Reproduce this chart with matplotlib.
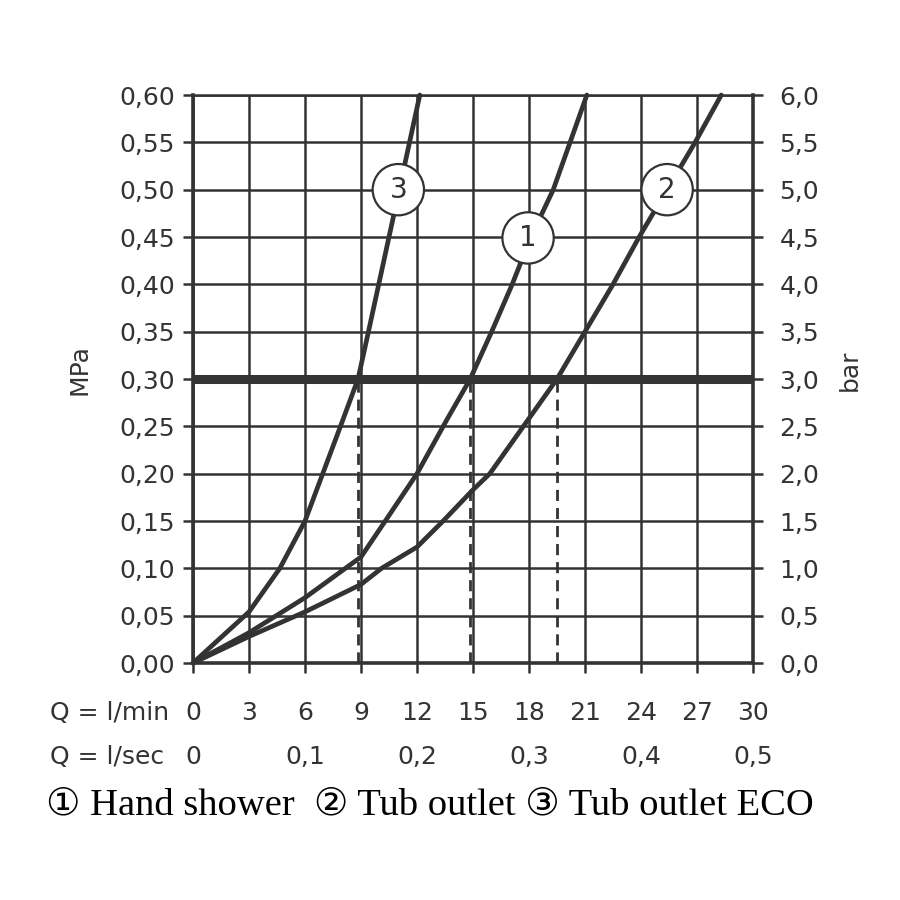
import matplotlib
matplotlib.use("Agg")
import matplotlib.pyplot as plt
import numpy as np

# Durchfluss (l/min) und Druck (MPa) je Kurve
flow_hand = [0, 3, 6, 9, 10.3, 12, 13.6, 14.85, 16.0, 17.1, 18.1, 19.3, 20.2, 21.1]
mpa_hand = [0, 0.032, 0.069, 0.112, 0.15, 0.20, 0.257, 0.30, 0.35, 0.40, 0.45, 0.50, 0.55, 0.60]

flow_tub = [0, 3, 6, 9, 10.1, 12, 13.4, 15, 15.9, 17.7, 19.5, 21.0, 22.5, 23.9, 25.4, 26.9, 28.3]
mpa_tub = [0, 0.028, 0.054, 0.083, 0.10, 0.1225, 0.15, 0.183, 0.20, 0.25, 0.30, 0.35, 0.40, 0.45, 0.50, 0.55, 0.60]

flow_eco = [0, 3, 4.65, 6.0, 6.95, 7.9, 8.84, 9.4, 9.95, 10.5, 11.05, 11.6, 12.15]
mpa_eco = [0, 0.054, 0.10, 0.15, 0.20, 0.25, 0.30, 0.35, 0.40, 0.45, 0.50, 0.55, 0.60]

# Kreis-Nummern auf den Kurven
marker_text = ["1", "2", "3"]
marker_x = [17.95, 25.4, 11.0]
marker_y = [0.449, 0.50, 0.50]

ref_pressure = 0.30
lmin_ticks = [0, 3, 6, 9, 12, 15, 18, 21, 24, 27, 30]
lsec_pos = [0, 6, 12, 18, 24, 30]
lsec_labels = ["0", "0,1", "0,2", "0,3", "0,4", "0,5"]
mpa_ticks = np.arange(0, 0.601, 0.05)
bar_ticks = np.arange(0, 6.01, 0.5)
legend_text = "\u2460 Hand shower  \u2461 Tub outlet \u2462 Tub outlet ECO"

dark = "#333333"
plt.rcParams["font.family"] = ["DejaVu Sans"]

fig = plt.figure(figsize=(9, 9), dpi=100)
ax = fig.add_axes([193 / 900, 237 / 900, 560 / 900, 568 / 900])

ax.set_xlim(0, 30)
ax.set_ylim(0, 0.6)
ax.set_xticks(lmin_ticks)
ax.set_yticks(mpa_ticks)
ax.set_yticklabels([f"{v:.2f}".replace(".", ",") for v in mpa_ticks])
ax.grid(True, color=dark, lw=1.8)
ax.set_axisbelow(True)
ax.tick_params(axis="both", direction="out", length=7, width=1.8, color=dark,
               labelsize=18, labelcolor=dark)
ax.tick_params(axis="y", pad=6)
ax.tick_params(axis="x", labelbottom=False)
for side in ["left", "right", "bottom"]:
    ax.spines[side].set_linewidth(2.6)
    ax.spines[side].set_color(dark)
ax.spines["top"].set_linewidth(1.8)
ax.spines["top"].set_color(dark)

# dicke Linie bei 0,30 MPa
ax.axhline(ref_pressure, color=dark, lw=6.5, zorder=3)

# gestrichelte Linien bis zur 3-bar-Linie
for fx, py in [(flow_eco, mpa_eco), (flow_hand, mpa_hand), (flow_tub, mpa_tub)]:
    q = np.interp(ref_pressure, py, fx)
    ax.plot([q, q], [0, ref_pressure], color=dark, lw=2, ls=(0, (4, 2.5)), zorder=2)

# Kurven
for fx, py in [(flow_hand, mpa_hand), (flow_tub, mpa_tub), (flow_eco, mpa_eco)]:
    ax.plot(fx, py, color=dark, lw=3.4, solid_joinstyle="round",
            solid_capstyle="round", zorder=4, clip_on=False)

for t, mx, my in zip(marker_text, marker_x, marker_y):
    ax.text(mx, my, t, fontsize=20, color=dark, ha="center", va="center", zorder=6,
            bbox=dict(boxstyle="circle,pad=0.42", fc="white", ec=dark, lw=1.6))

# rechte Achse in bar
ax2 = ax.twinx()
ax2.set_ylim(0, 6)
ax2.set_yticks(bar_ticks)
ax2.set_yticklabels([f"{v:.1f}".replace(".", ",") for v in bar_ticks])
ax2.tick_params(axis="y", direction="out", length=7, width=1.8, color=dark,
                labelsize=18, labelcolor=dark, pad=12)
for s in ax2.spines.values():
    s.set_visible(False)

ax.text(-0.2018, 0.516, "MPa", transform=ax.transAxes, rotation=90,
        ha="center", va="center", fontsize=18, color=dark)
ax.text(1.173, 0.516, "bar", transform=ax.transAxes, rotation=90,
        ha="center", va="center", fontsize=18, color=dark)

# Achsbeschriftung unten, zwei Zeilen
tr = ax.get_xaxis_transform()
for v in lmin_ticks:
    ax.text(v, -0.088, str(v), transform=tr, ha="center", va="center",
            fontsize=18, color=dark)
for v, lab in zip(lsec_pos, lsec_labels):
    ax.text(v, -0.1655, lab, transform=tr, ha="center", va="center",
            fontsize=18, color=dark)
fig.text(50 / 900, 1 - 713 / 900, "Q = l/min", ha="left", va="center",
         fontsize=18, color=dark)
fig.text(50 / 900, 1 - 757 / 900, "Q = l/sec", ha="left", va="center",
         fontsize=18, color=dark)

fig.text(46 / 900, 1 - 805 / 900, legend_text, ha="left", va="center",
         fontsize=27.7, color="black", family=["Liberation Serif", "DejaVu Sans"])

fig.savefig("out.png", dpi=100, facecolor="white")
